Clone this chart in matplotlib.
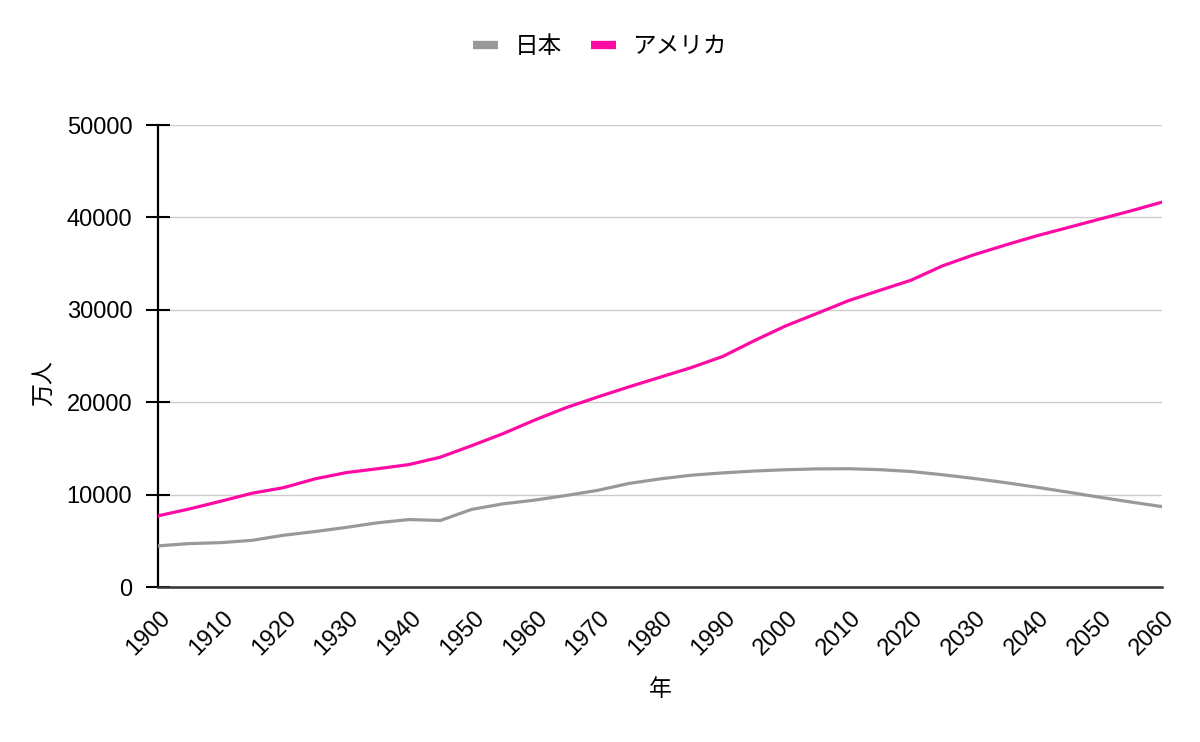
"""Population of Japan and the USA, 1900-2060 (line chart)."""

import matplotlib
matplotlib.use("Agg")
import matplotlib.pyplot as plt
from matplotlib import transforms

# data (unit: 万人)
YEARS = list(range(1900, 2061, 5))
JAPAN = [4450, 4700, 4800, 5050, 5600, 6000, 6450, 6950, 7300, 7200,
         8400, 9000, 9400, 9900, 10450, 11200, 11700, 12100, 12350, 12550,
         12690, 12780, 12800, 12700, 12500, 12150, 11750, 11300, 10800,
         10270, 9720, 9200, 8700]
USA = [7700, 8450, 9280, 10150, 10750, 11700, 12380, 12800, 13250, 14050,
       15300, 16600, 18060, 19400, 20550, 21650, 22700, 23750, 24950, 26650,
       28250, 29600, 30980, 32100, 33200, 34750, 35950, 37000, 38000, 38900,
       39800, 40700, 41650]
SERIES_NAMES = ["日本", "アメリカ"]
XTICKS = list(range(1900, 2061, 10))
YTICKS = [0, 10000, 20000, 30000, 40000, 50000]

plt.rcParams["font.family"] = ["Liberation Sans", "Noto Sans CJK JP"]

fig = plt.figure(figsize=(12, 7.42), dpi=100)
ax = fig.add_axes([158 / 1200, 1 - 587 / 742, 1004 / 1200, 462 / 742])

ax.plot(YEARS, JAPAN, color="#999999", lw=2.3, label=SERIES_NAMES[0],
        solid_joinstyle="round", zorder=3)
ax.plot(YEARS, USA, color="#ff0aa5", lw=2.3, label=SERIES_NAMES[1],
        solid_joinstyle="round", zorder=3)

ax.set_xlim(1900, 2060)
ax.set_ylim(0, 50000)
ax.set_yticks(YTICKS)
ax.set_yticklabels([str(v) for v in YTICKS], fontsize=17)
ax.set_xticks(XTICKS)
ax.set_xticklabels([str(v) for v in XTICKS], fontsize=17, rotation=45,
                   ha="right", va="top")

ax.tick_params(axis="x", length=0, pad=14)
ax.tick_params(axis="y", direction="inout", length=17, width=1.5,
               pad=10, color="black")

# shift rotated labels to the right, as in the reference
# (after tick_params, which resets the label transforms)
shift = transforms.ScaledTranslation(17 / 100, 0, fig.dpi_scale_trans)
for lbl in ax.get_xticklabels():
    lbl.set_transform(lbl.get_transform() + shift)

ax.grid(axis="y", color="#cccccc", lw=1)
ax.set_axisbelow(True)
for side in ("top", "right"):
    ax.spines[side].set_visible(False)
ax.spines["left"].set_color("black")
ax.spines["left"].set_linewidth(1.6)
ax.spines["bottom"].set_color("#333333")
ax.spines["bottom"].set_linewidth(1.8)
ax.spines["bottom"].set_zorder(4)

ax.set_xlabel("年", fontsize=16.5)
ax.xaxis.set_label_coords(0.5, -(690 + 11 - 587) / 462)
ax.xaxis.label.set_va("bottom")
ax.set_ylabel("万人", fontsize=16.5)
ax.yaxis.set_label_coords((55 - 158) / 1004, (587 - 383) / 462)

leg = fig.legend(loc="center", bbox_to_anchor=(0.5, 1 - 47 / 742), ncol=2,
                 frameon=False, fontsize=17, handlelength=1.05,
                 handletextpad=0.7, columnspacing=1.25)
for h in leg.get_lines():
    h.set_linewidth(6)
    h.set_solid_capstyle("butt")

fig.savefig("out.png", dpi=100)
